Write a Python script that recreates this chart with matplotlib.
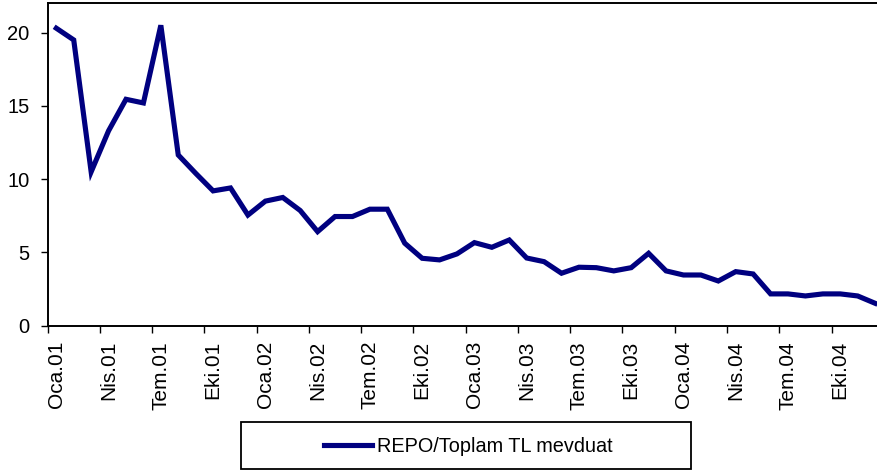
import numpy as np
import matplotlib.pyplot as plt
from matplotlib.patches import Rectangle

plt.rcParams['font.family'] = ['Liberation Sans', 'DejaVu Sans']

# aylik veriler, Ocak 2001 - Aralik 2004
repo_orani = [20.3, 19.5, 10.5, 13.3, 15.45, 15.2, 20.5, 11.65, 10.4, 9.2,
              9.4, 7.55, 8.5, 8.75, 7.86, 6.42, 7.45, 7.45, 7.95, 7.95,
              5.63, 4.6, 4.49, 4.9, 5.67, 5.35, 5.85, 4.62, 4.37, 3.58,
              3.99, 3.96, 3.74, 3.96, 4.94, 3.74, 3.46, 3.46, 3.05, 3.69,
              3.53, 2.17, 2.17, 2.03, 2.17, 2.17, 2.03, 1.53]
etiketler = ['Oca.01', 'Nis.01', 'Tem.01', 'Eki.01', 'Oca.02', 'Nis.02', 'Tem.02', 'Eki.02',
             'Oca.03', 'Nis.03', 'Tem.03', 'Eki.03', 'Oca.04', 'Nis.04', 'Tem.04', 'Eki.04']
seri_adi = 'REPO/Toplam TL mevduat'

fig = plt.figure(figsize=(8.78, 4.72), dpi=100)
# eksen sag kenari resmin disina tasiyor (orijinal kesik)
ax = fig.add_axes([47.6 / 878, 146.3 / 472, 836.2 / 878, 322.4 / 472])

x = np.arange(len(repo_orani))
line, = ax.plot(x, repo_orani, color='#000080', lw=3.7, solid_joinstyle='miter')

ax.set_xlim(-0.5, len(repo_orani) - 0.5)
ax.set_ylim(0, 22)
ax.set_yticks([0, 5, 10, 15, 20])

# tik cizgileri kategoriler arasinda, etiketler kategorilerin ortasinda
ax.set_xticks(np.arange(-0.5, len(repo_orani), 3))
ax.set_xticklabels([])
ax.set_xticks(np.arange(0, len(repo_orani), 3), minor=True)
ax.set_xticklabels(etiketler, minor=True, rotation=90, fontsize=15)
ax.tick_params(axis='x', which='major', direction='out', length=5, width=1)
ax.tick_params(axis='x', which='minor', length=0, pad=11)
ax.tick_params(axis='y', direction='out', length=5, width=1, labelsize=14.5, pad=8)

for s in ax.spines.values():
    s.set_linewidth(1.4)

# lejant
fig.patches.append(Rectangle((241 / 878, 3 / 472), 450 / 878, 47 / 472,
                             transform=fig.transFigure, fill=False,
                             edgecolor='black', lw=1.3))
fig.legend([line], [seri_adi], loc='center', bbox_to_anchor=(468 / 878, 26 / 472),
           frameon=False, fontsize=14.3, handlelength=2.4, handletextpad=0.25)

fig.savefig('out.png', dpi=100)
